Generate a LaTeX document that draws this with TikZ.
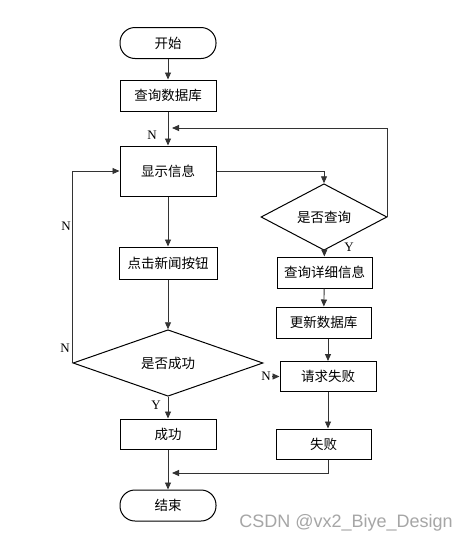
\documentclass[tikz,border=0pt]{standalone}
\usepackage{fontspec}
\setmainfont{Liberation Serif}
\newfontfamily\cjk{Noto Sans CJK SC}
\newfontfamily\wmfont{Liberation Sans}
\usetikzlibrary{shapes.geometric,arrows.meta}
\begin{document}
\begin{tikzpicture}[x=1pt,y=-1pt,
  proc/.style={draw=black,line width=1pt,rectangle,minimum width=96pt,minimum height=31pt,inner sep=0pt,font=\cjk\fontsize{13.5}{16}\selectfont},
  term/.style={proc,rounded corners=15pt},
  decide/.style={draw=black,line width=1pt,diamond,inner sep=0pt,font=\cjk\fontsize{13.5}{16}\selectfont},
  conn/.style={draw=black!80,line width=0.9pt,-{Triangle[length=7pt,width=6pt]}},
  plain/.style={draw=black!80,line width=0.9pt},
  lab/.style={font=\fontsize{13}{14}\selectfont,inner sep=0pt}
]
\useasboundingbox (0,0) rectangle (471,544);
\fill[white] (0,0) rectangle (471,544);

\node[term] (start) at (168,43) {开始};
\node[proc] (q1) at (168,95.5) {查询数据库};
\node[proc,minimum height=50pt] (show) at (168,171) {显示信息};
\node[proc,minimum width=98pt,minimum height=32pt] (click) at (168,263) {点击新闻按钮};
\node[decide,minimum width=190pt,minimum height=50pt] (succq) at (168,363) {是否成功};
\node[proc,minimum height=30pt] (succ) at (168,434) {成功};
\node[term] (end) at (168,505.5) {结束};

\node[decide,minimum width=126pt,minimum height=50pt] (qq) at (324,217) {是否查询};
\node[proc,minimum width=95pt] (detail) at (324.5,272.5) {查询详细信息};
\node[proc,minimum width=95pt] (update) at (323.5,322.5) {更新数据库};
\node[proc,minimum height=30pt] (fail1) at (328,376.5) {请求失败};
\node[proc,minimum width=95pt,minimum height=30pt] (fail2) at (323.5,444) {失败};

\coordinate (fb) at (172,128);
\coordinate (join) at (172,473);
\coordinate (nstart) at (272,376.5);

\draw[conn] (start) -- (q1);
\draw[conn] (q1) -- (show);
\node[lab] (n1) at (152,135) {N};
\draw[conn] (qq.east) |- (fb);
\draw[conn] (show.east) -| (qq.north);
\draw[conn] (qq) -- (detail);
\node[lab] (y1) at (349,247) {Y};
\draw[conn] (detail) -- (update);
\draw[conn] (update.south -| fail1) -- (fail1.north);
\draw[conn] (fail1.south) -- (fail1.south |- fail2.north);
\draw[conn] (fail2.south -| fail1) |- (join);

\draw[conn] (show) -- (click);
\draw[conn] (click) -- (succq);
\draw[conn] (succq.west) |- (show.west);
\node[lab] (n2) at (66,226) {N};
\node[lab] (n3) at (65,348) {N};
\draw[conn] (succq) -- (succ);
\node[lab] (y2) at (156,405) {Y};
\draw[conn] (succ) -- (end);
\draw[conn] (nstart) -- (fail1.west);
\node[lab] (n4) at (266,376) {N};

\node[font=\wmfont\fontsize{18}{20}\selectfont,text=black!35,inner sep=0pt] (wm) at (346,523) {CSDN @vx2\_Biye\_Design};
\end{tikzpicture}
\end{document}
